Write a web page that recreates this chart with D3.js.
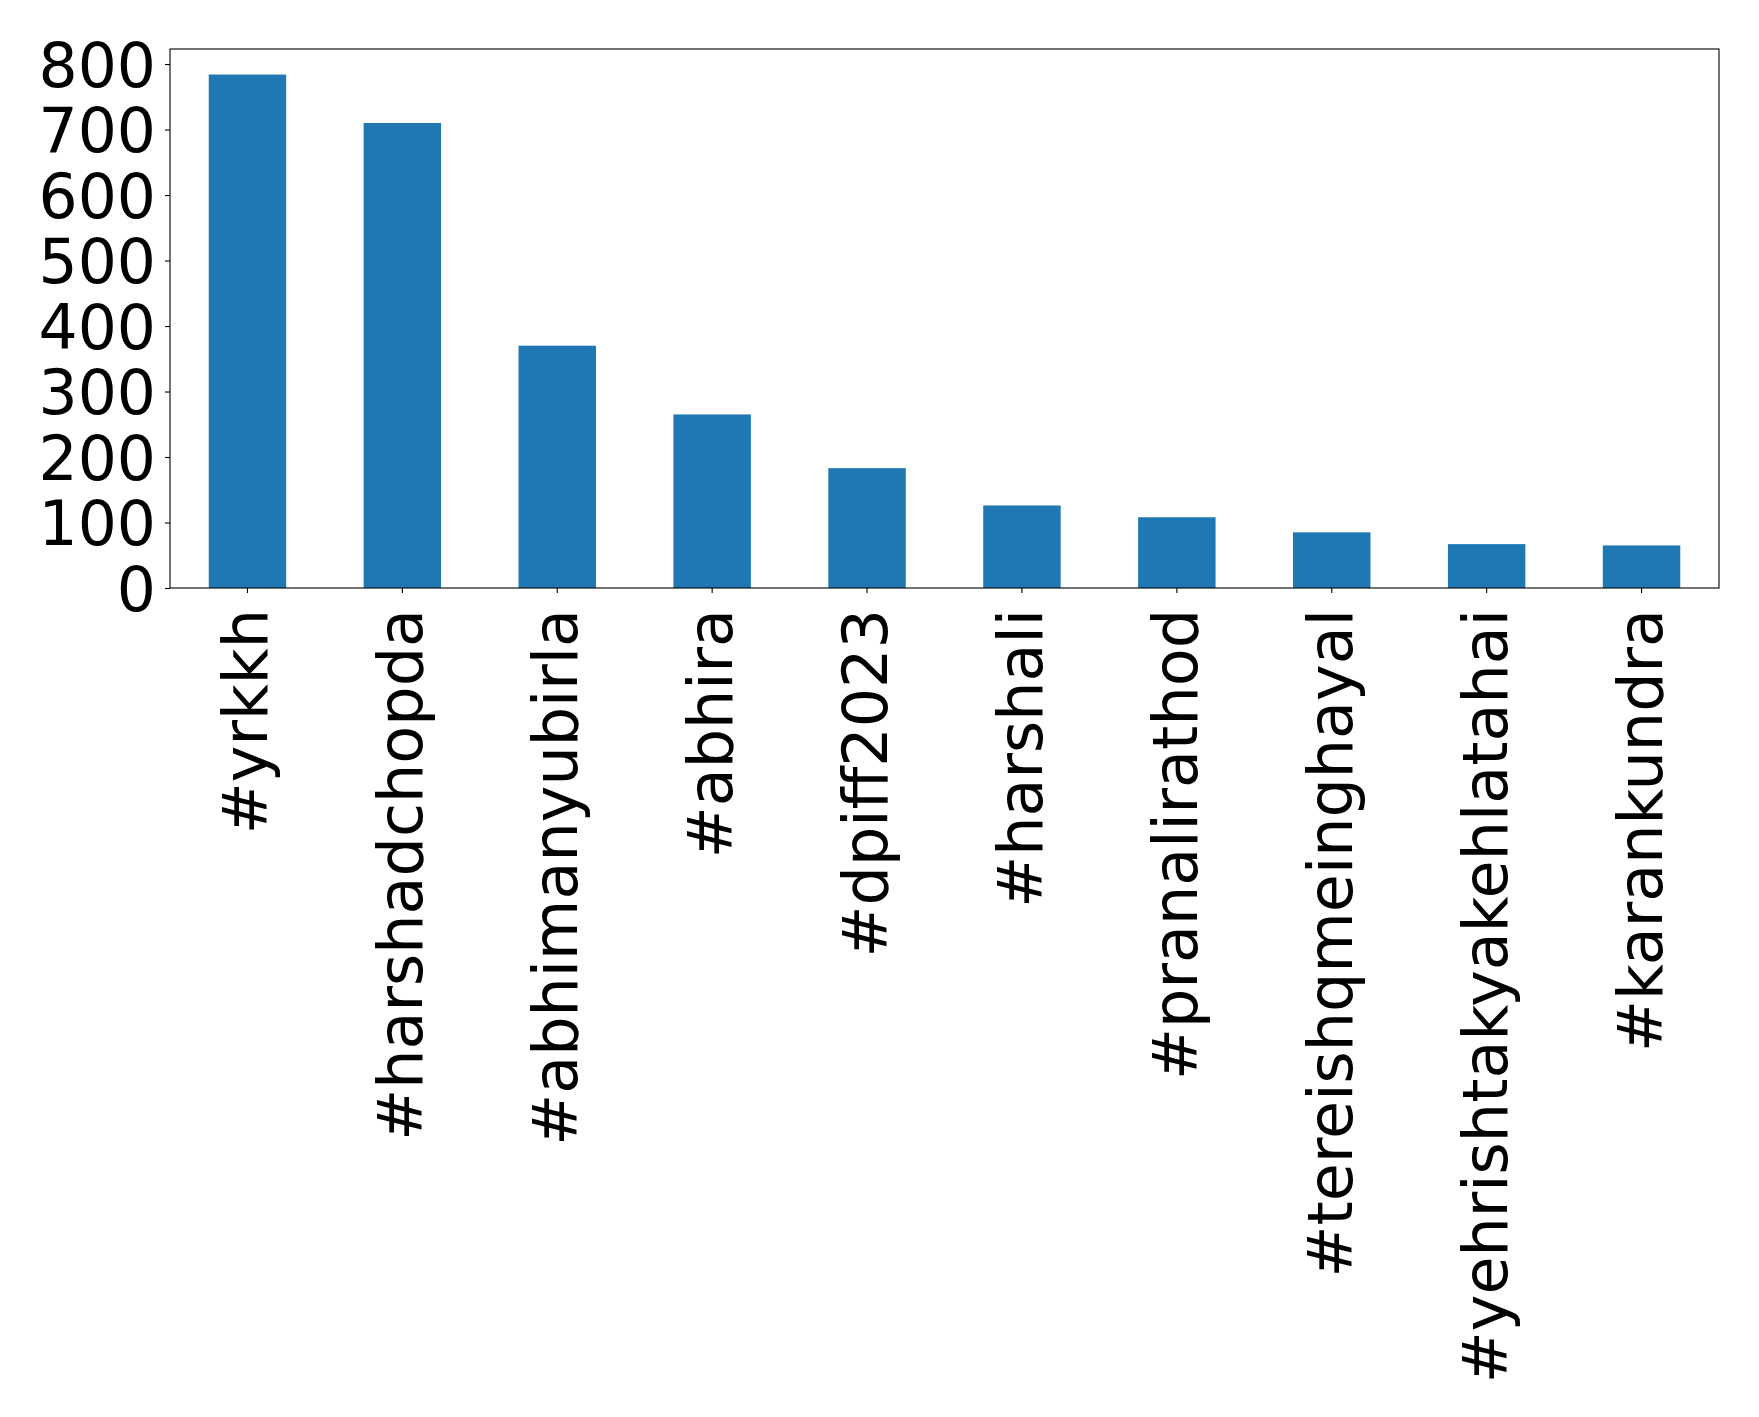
<!DOCTYPE html>
<html>
<head>
<meta charset="utf-8">
<script src="https://cdn.jsdelivr.net/npm/d3@7"></script>
<style>
  html, body { margin: 0; padding: 0; background: #fff; }
  text { font-family: "DejaVu Sans", sans-serif; }
</style>
</head>
<body>
<svg id="chart" width="1759" height="1417"></svg>
<script>
const categories = ["#yrkkh", "#harshadchopda", "#abhimanyubirla", "#abhira", "#dpiff2023",
  "#harshali", "#pranalirathod", "#tereishqmeinghayal", "#yehrishtakyakehlatahai", "#karankundra"];
const values = [784, 710, 370, 265, 183, 126, 108, 85, 67, 65];
const yTicks = [0, 100, 200, 300, 400, 500, 600, 700, 800];

const svg = d3.select("#chart");
const margin = { left: 170, top: 49, right: 1759 - 1719, bottom: 1417 - 588 };
const W = 1759 - margin.left - margin.right;
const H = 1417 - margin.top - margin.bottom;

const g = svg.append("g").attr("transform", `translate(${margin.left},${margin.top})`);

const x = d3.scaleBand().domain(categories).range([0, W]).paddingInner(0.5).paddingOuter(0.25);
const y = d3.scaleLinear().domain([0, 823]).range([H, 0]);

g.selectAll("rect.bar").data(values).enter().append("rect")
  .attr("class", "bar")
  .attr("x", (d, i) => x(categories[i]))
  .attr("width", x.bandwidth())
  .attr("y", d => y(d))
  .attr("height", d => H - y(d))
  .attr("fill", "#1f77b4");

// Y axis
const yAxis = g.append("g").call(d3.axisLeft(y).tickValues(yTicks).tickSize(5).tickPadding(9).tickFormat(d3.format("d")));
yAxis.select(".domain").remove();
yAxis.selectAll("line").attr("stroke", "#000").attr("stroke-width", 1.1);
yAxis.selectAll("text").attr("font-size", 61.5).attr("fill", "#000").attr("dy", "0.36em")
  .style("font-family", "'DejaVu Sans', sans-serif");

// X axis
const xAxis = g.append("g").attr("transform", `translate(0,${H})`)
  .call(d3.axisBottom(x).tickSize(5).tickPadding(0));
xAxis.select(".domain").remove();
xAxis.selectAll("line").attr("stroke", "#000").attr("stroke-width", 1.1);
xAxis.selectAll("text")
  .attr("font-size", 62).attr("fill", "#000")
  .attr("text-anchor", "end")
  .attr("transform", "rotate(-90)")
  .attr("x", -21).attr("y", 20).attr("dy", null)
  .style("font-family", "'DejaVu Sans', sans-serif");

// Frame
g.append("rect").attr("x", 0).attr("y", 0).attr("width", W).attr("height", H)
  .attr("fill", "none").attr("stroke", "#000").attr("stroke-width", 1.1);
</script>
</body>
</html>
